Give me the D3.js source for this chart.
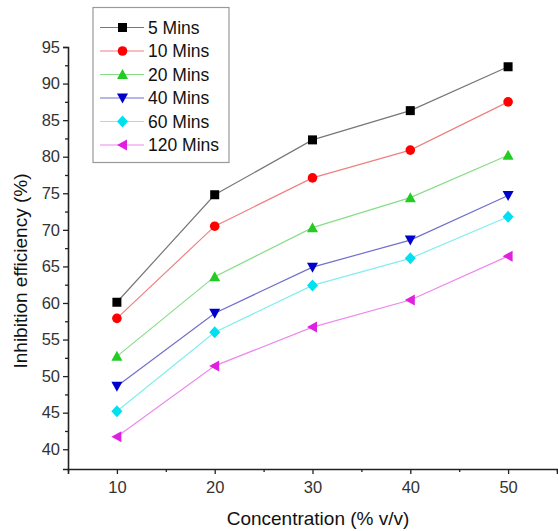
<!DOCTYPE html>
<html><head><meta charset="utf-8">
<script src="https://cdn.jsdelivr.net/npm/d3@7"></script>
<style>body{margin:0;background:#fff}svg{display:block}text{font-family:"Liberation Sans",Arial,sans-serif}</style>
</head><body><svg id="c" width="558" height="531"></svg>
<script>
const concentrations = [10, 20, 30, 40, 50];
const seriesNames = ["5 Mins", "10 Mins", "20 Mins", "40 Mins", "60 Mins", "120 Mins"];
const mins5   = [60.1, 74.8, 82.3, 86.3, 92.3];
const mins10  = [57.9, 70.5, 77.1, 80.9, 87.5];
const mins20  = [52.7, 63.6, 70.3, 74.4, 80.2];
const mins40  = [48.6, 58.6, 64.9, 68.6, 74.7];
const mins60  = [45.2, 56.0, 62.4, 66.1, 71.8];
const mins120 = [41.7, 51.4, 56.7, 60.4, 66.4];
const xTicks = [10, 20, 30, 40, 50];
const yTicks = [40, 45, 50, 55, 60, 65, 70, 75, 80, 85, 90, 95];

const colors = ["#000000", "#ff0000", "#22cc22", "#0000cc", "#00e0f0", "#e020e0"];
const lineColors = ["#777777", "#f08080", "#88dd88", "#7070cc", "#80eef0", "#ee88ee"];
const shapes = ["square", "circle", "triUp", "triDown", "diamond", "triLeft"];
const allSeries = [mins5, mins10, mins20, mins40, mins60, mins120];

const svg = d3.select("#c");
const x = d3.scaleLinear().domain([5, 55]).range([68, 557]);
const y = d3.scaleLinear().domain([37.3, 95]).range([469, 47]);

function marker(g, shape, color, cx, cy) {
  let p;
  if (shape === "square") p = `M${cx-4.5},${cy-4.5}h9v9h-9z`;
  else if (shape === "circle") { g.append("circle").attr("cx", cx).attr("cy", cy).attr("r", 4.8).attr("fill", color); return; }
  else if (shape === "triUp") p = `M${cx},${cy-5.5}L${cx+5.5},${cy+4.5}L${cx-5.5},${cy+4.5}Z`;
  else if (shape === "triDown") p = `M${cx},${cy+5.5}L${cx+5.5},${cy-4.5}L${cx-5.5},${cy-4.5}Z`;
  else if (shape === "diamond") p = `M${cx},${cy-6}L${cx+5.5},${cy}L${cx},${cy+6}L${cx-5.5},${cy}Z`;
  else if (shape === "triLeft") p = `M${cx-5.5},${cy}L${cx+4.5},${cy-5.5}L${cx+4.5},${cy+5.5}Z`;
  g.append("path").attr("d", p).attr("fill", color);
}

// axes
const yAxis = d3.axisLeft(y).tickValues(yTicks).tickSize(5).tickPadding(3);
svg.append("g").attr("transform", "translate(68,0)").call(yAxis);
const yMinor = d3.axisLeft(y).tickValues(d3.range(42.5, 95, 5)).tickSize(3).tickFormat("");
svg.append("g").attr("transform", "translate(68,0)").call(yMinor).select(".domain").remove();
const xAxis = d3.axisBottom(x).tickValues(xTicks).tickSize(5).tickPadding(7);
svg.append("g").attr("transform", "translate(0,469)").call(xAxis);
const xMinor = d3.axisBottom(x).tickValues([5, 15, 25, 35, 45, 55]).tickSize(3).tickFormat("");
svg.append("g").attr("transform", "translate(0,469)").call(xMinor).select(".domain").remove();
svg.selectAll(".domain").attr("stroke", "#222").attr("stroke-width", 1.6);
svg.selectAll(".tick line").attr("stroke", "#222").attr("stroke-width", 1.3);
svg.selectAll(".tick text").attr("fill", "#333").style("font-size", "16.5px").style("font-family", "'Liberation Sans',Arial,sans-serif");

// titles
svg.append("text").attr("x", 318).attr("y", 525).attr("text-anchor", "middle")
  .style("font-size", "19px").attr("fill", "#111").text("Concentration (% v/v)");
svg.append("text").attr("transform", "translate(27,271) rotate(-90)").attr("text-anchor", "middle")
  .style("font-size", "19px").attr("fill", "#111").text("Inhibition efficiency (%)");

// series
allSeries.forEach((vals, i) => {
  const g = svg.append("g");
  const line = d3.line().x((d, j) => x(concentrations[j])).y(d => y(d));
  g.append("path").datum(vals).attr("d", line).attr("fill", "none").attr("stroke", lineColors[i]).attr("stroke-width", 1.2);
  vals.forEach((v, j) => marker(g, shapes[i], colors[i], x(concentrations[j]), y(v)));
});

// legend
const lg = svg.append("g");
lg.append("rect").attr("x", 93).attr("y", 7.5).attr("width", 136).attr("height", 155)
  .attr("fill", "#fff").attr("stroke", "#999").attr("stroke-width", 1.2);
seriesNames.forEach((name, i) => {
  const cy = 27.5 + i * 23.5;
  lg.append("line").attr("x1", 100).attr("x2", 144).attr("y1", cy).attr("y2", cy).attr("stroke", lineColors[i]).attr("stroke-width", 1.2);
  marker(lg, shapes[i], colors[i], 122.5, cy);
  lg.append("text").attr("x", 148).attr("y", cy + 6).style("font-size", "17.5px").attr("fill", "#111").text(name);
});
</script></body></html>
